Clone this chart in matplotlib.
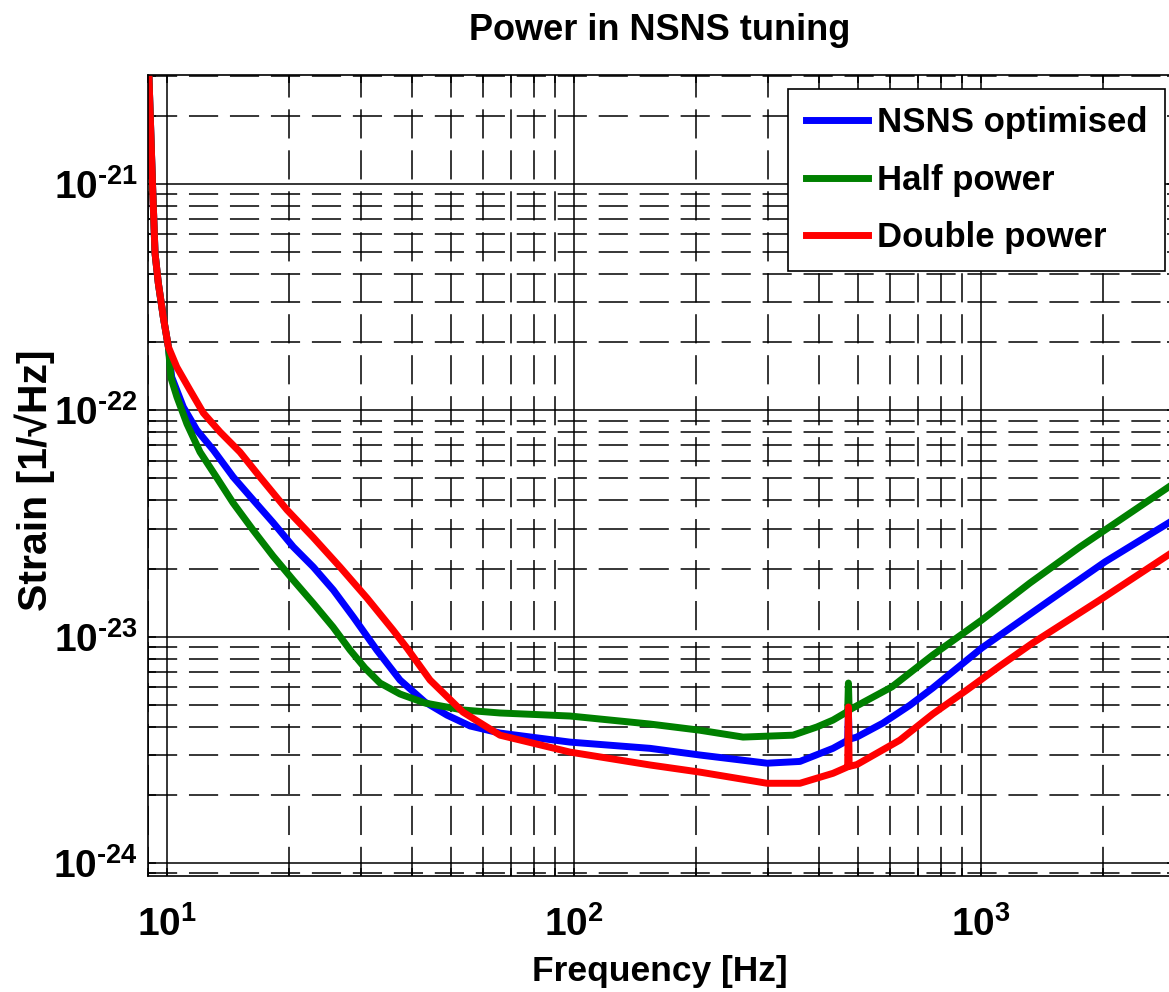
import matplotlib
matplotlib.use('Agg')
import matplotlib.pyplot as plt
from matplotlib.ticker import FixedLocator, NullFormatter

# values (frequency in Hz, strain in 1/sqrt(Hz))
freq_blue = [9.0, 9.23, 9.365, 9.54, 9.815, 10.10, 10.29, 10.99, 11.86, 13.02,
             14.58, 16.33, 18.29, 20.48, 22.93, 25.68, 28.75, 32.82, 37.44, 43.12,
             48.84, 55.65, 65.9, 97.9, 154, 204, 298.5, 359.6, 433.5, 469,
             471, 473, 475, 496, 575, 670, 762, 1005.7, 1479, 2019, 2893]
strain_blue = [4.0e-21, 1.01e-21, 4.95e-22, 3.65e-22, 2.58e-22, 1.905e-22, 1.403e-22,
               1.034e-22, 8.18e-23, 6.68e-23, 5.07e-23, 4.01e-23, 3.18e-23, 2.49e-23,
               2.03e-23, 1.606e-23, 1.221e-23, 8.73e-24, 6.43e-24, 5.14e-24, 4.50e-24,
               4.03e-24, 3.75e-24, 3.42e-24, 3.21e-24, 3.00e-24, 2.76e-24, 2.81e-24,
               3.21e-24, 3.47e-24, 3.49e-24, 4.6e-24, 3.52e-24, 3.60e-24, 4.15e-24,
               4.98e-24, 5.93e-24, 8.91e-24, 1.45e-23, 2.14e-23, 3.18e-23]

freq_green = [9.0, 9.23, 9.365, 9.54, 9.815, 10.10, 10.25, 10.60, 11.22, 12.08,
              13.30, 14.56, 16.30, 18.26, 20.45, 22.89, 25.63, 28.22, 30.72, 33.43,
              37.44, 43.12, 53.5, 65.9, 97.9, 154, 204, 260.6, 345.7, 395.9,
              433.5, 469, 471, 473, 475, 485, 605, 762, 1005.7, 1320, 1752, 2893]
strain_green = [4.0e-21, 1.01e-21, 4.95e-22, 3.65e-22, 2.58e-22, 1.905e-22, 1.389e-22,
                1.145e-22, 8.70e-23, 6.54e-23, 5.02e-23, 3.90e-23, 2.96e-23, 2.27e-23,
                1.78e-23, 1.408e-23, 1.103e-23, 8.73e-24, 7.26e-24, 6.24e-24, 5.58e-24,
                5.09e-24, 4.74e-24, 4.60e-24, 4.46e-24, 4.11e-24, 3.86e-24, 3.60e-24,
                3.67e-24, 3.99e-24, 4.28e-24, 4.65e-24, 4.68e-24, 6.24e-24, 4.74e-24,
                4.84e-24, 6.0e-24, 8.29e-24, 1.184e-23, 1.725e-23, 2.49e-23, 4.58e-23]

freq_red = [9.0, 9.23, 9.365, 9.54, 9.815, 10.10, 10.59, 11.41, 12.31, 13.53,
            15.14, 16.96, 19.76, 22.89, 26.67, 31.07, 35.98, 38.95, 44.37, 53.46,
            65.9, 97.9, 154, 204.3, 298.5, 359.6, 433.5, 469, 471, 473, 475,
            496, 632.8, 762, 924, 1113, 1341, 1959, 2893]
strain_red = [4.0e-21, 1.01e-21, 4.95e-22, 3.65e-22, 2.58e-22, 1.905e-22, 1.553e-22,
              1.229e-22, 9.73e-23, 8.02e-23, 6.54e-23, 5.07e-23, 3.63e-23, 2.75e-23,
              2.03e-23, 1.48e-23, 1.07e-23, 8.9e-24, 6.43e-24, 4.64e-24, 3.67e-24,
              3.09e-24, 2.71e-24, 2.52e-24, 2.25e-24, 2.25e-24, 2.49e-24, 2.65e-24,
              2.66e-24, 4.89e-24, 2.67e-24, 2.72e-24, 3.49e-24, 4.55e-24, 5.81e-24,
              7.41e-24, 9.37e-24, 1.45e-23, 2.30e-23]

labels = ['NSNS optimised', 'Half power', 'Double power']
colors = ['#0000ff', '#008000', '#ff0000']

x_major = [10, 100, 1000]
x_ticklabels = [r'$10^{1}$', r'$10^{2}$', r'$10^{3}$']
y_major = [1e-24, 1e-23, 1e-22, 1e-21]
y_ticklabels = ['$10^{\u201024}$', '$10^{\u201023}$', '$10^{\u201022}$', '$10^{\u201021}$']

plt.rcParams['font.family'] = ['Liberation Sans', 'DejaVu Sans']
plt.rcParams['font.weight'] = 'bold'
plt.rcParams['mathtext.fontset'] = 'custom'
plt.rcParams['mathtext.default'] = 'bf'
plt.rcParams['mathtext.bf'] = 'Liberation Sans:bold'
plt.rcParams['mathtext.rm'] = 'Liberation Sans:bold'
plt.rcParams['lines.scale_dashes'] = False

fig = plt.figure(figsize=(11.69, 9.92), dpi=100)
ax = fig.add_axes([148/1169, 116/992, 1027/1169, 801/992])

lw = 5.0
ax.plot(freq_blue, strain_blue, color=colors[0], lw=lw, label=labels[0])
ax.plot(freq_green, strain_green, color=colors[1], lw=lw, label=labels[1])
ax.plot(freq_red, strain_red, color=colors[2], lw=lw, label=labels[2])

ax.set_xscale('log')
ax.set_yscale('log')
ax.set_xlim(9, 3000)
ax.set_ylim(8.76e-25, 3.03e-21)

x_minor = [m * 10.0**e for e in range(0, 4) for m in range(2, 10)]
y_minor = [m * 10.0**e for e in range(-25, -20) for m in range(2, 10)]
ax.xaxis.set_major_locator(FixedLocator(x_major))
ax.xaxis.set_minor_locator(FixedLocator(x_minor))
ax.yaxis.set_major_locator(FixedLocator(y_major))
ax.yaxis.set_minor_locator(FixedLocator(y_minor))
ax.set_xticklabels(x_ticklabels)
ax.set_yticklabels(y_ticklabels)
ax.xaxis.set_minor_formatter(NullFormatter())
ax.yaxis.set_minor_formatter(NullFormatter())

ax.grid(True, which='major', color='black', lw=1.1, ls='-')
ax.grid(True, which='minor', color='black', lw=1.1, ls=(0, (21, 8.5)))
ax.set_axisbelow(True)

ax.tick_params(which='both', direction='in', top=True, right=True, length=6, width=1.1)
ax.tick_params(axis='x', which='major', labelsize=28, pad=22)
ax.tick_params(axis='y', which='major', labelsize=28, pad=7)
for s in ax.spines.values():
    s.set_linewidth(1.2)
    s.set_color('black')

leg = ax.legend(loc='upper right', bbox_to_anchor=(0.990, 0.9825), borderaxespad=0,
                fontsize=25, frameon=True, fancybox=False, framealpha=1,
                edgecolor='black', handlelength=1.8, handletextpad=0.25,
                borderpad=0.5, labelspacing=0.7)
leg.get_frame().set_linewidth(1.2)

fig.text(660/1169, 1 - 31/992, 'Power in NSNS tuning', ha='center', va='center',
         fontsize=26, fontweight='bold')
fig.text(660/1169, 1 - 972/992, 'Frequency [Hz]', ha='center', va='center',
         fontsize=25.5, fontweight='bold')
fig.text(35/1169, 1 - 480/992, 'Strain [1/\u221aHz]', ha='center', va='center',
         rotation=90, fontsize=29.5, fontweight='bold')

fig.savefig('out.png', dpi=100)
